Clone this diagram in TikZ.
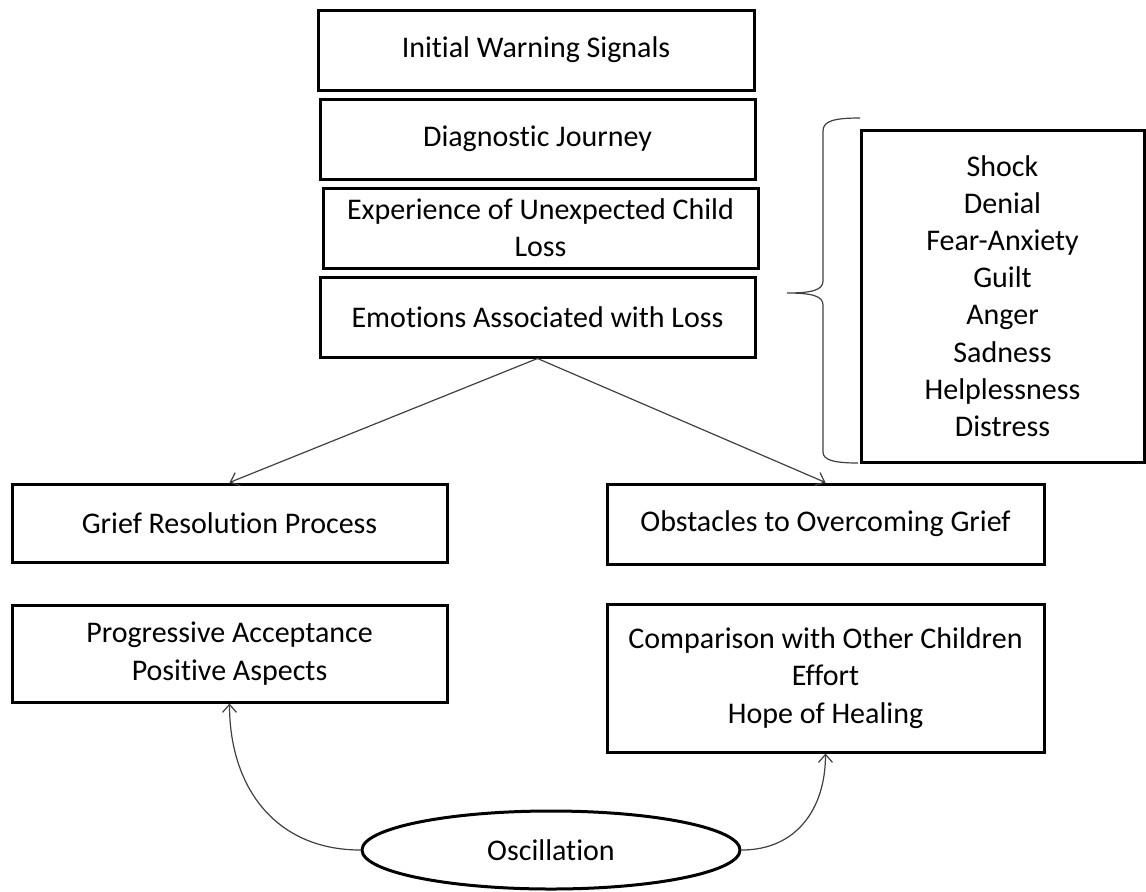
\documentclass[tikz,border=0pt]{standalone}
\usepackage{fontspec}
\setmainfont{Carlito}[Ligatures=NoCommon]
\usetikzlibrary{arrows.meta,shapes.geometric}
\begin{document}
\begin{tikzpicture}[x=0.5pt,y=-0.5pt,
  font=\fontsize{15}{18.6}\selectfont,
  box/.style={draw=black,line width=1.5pt,align=center,inner sep=0pt},
  link/.style={draw=black!75,line width=0.6pt,-{Straight Barb[length=4pt,width=7pt]}},
  bracepath/.style={draw=black!75,line width=0.6pt}]
\useasboundingbox (0,0) rectangle (1146,891);

% main chain of stages
\node[box,minimum width=218pt,minimum height=40pt] (warn) at (536,50) {Initial Warning Signals};
\node[box,minimum width=217.5pt,minimum height=40pt] (diag) at (537.5,139) {Diagnostic Journey};
\node[box,minimum width=217.5pt,minimum height=40pt] (loss) at (540.5,228) {Experience of Unexpected Child\\Loss};
\node[box,minimum width=217.5pt,minimum height=40pt] (emot) at (537.5,317) {Emotions Associated with Loss};

% list of emotions
\node[box,minimum width=141.5pt,minimum height=166pt] (list) at (1002.5,296)
  {Shock\\Denial\\Fear-Anxiety\\Guilt\\Anger\\Sadness\\Helplessness\\Distress};

% two branches
\node[box,minimum width=217.5pt,minimum height=39pt] (grief) at (229.5,523) {Grief Resolution Process};
\node[box,minimum width=218.5pt,minimum height=40pt] (obst) at (825.5,524) {Obstacles to Overcoming Grief};
\node[box,minimum width=217.5pt,minimum height=48.5pt] (prog) at (229.5,653.5) {Progressive Acceptance\\Positive Aspects};
\node[box,minimum width=218.5pt,minimum height=74pt] (comp) at (825.5,678) {Comparison with Other Children\\Effort\\Hope of Healing};

% oscillation between the two
\node[box,ellipse,minimum width=189pt,minimum height=39pt] (osc) at (551,850) {Oscillation};

% connectors
\draw[link] (emot.south) -- (grief.north);
\draw[link] (emot.south) -- (obst.north);
\draw[link] (osc.west) to[out=180,in=-90,looseness=1.1] (prog.south);
\draw[link] (osc.east) to[out=0,in=-90,looseness=1.1] (comp.south);

% curly brace grouping the emotions
\coordinate (btop) at (860,118);
\coordinate (btip) at (787,293);
\coordinate (bbot) at (858,463);
\draw[bracepath] (btop) .. controls (834,118) and (823,121) .. (823,131)
  -- (823,281) .. controls (823,290) and (812,293) .. (btip)
  .. controls (812,293) and (823,296) .. (823,305)
  -- (823,452) .. controls (823,460) and (834,463) .. (bbot);
\end{tikzpicture}
\end{document}
